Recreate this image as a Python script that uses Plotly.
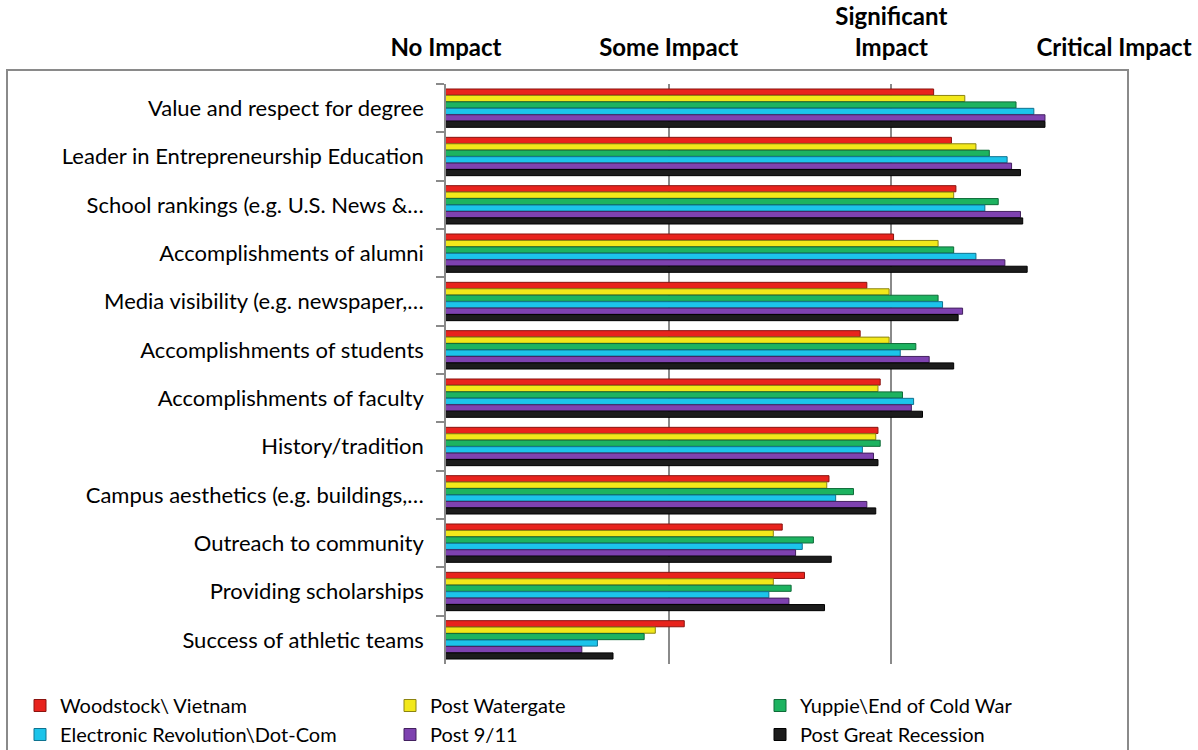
import plotly.graph_objects as go

# Survey factors, listed top to bottom
factors = [
    "Value and respect for degree",
    "Leader in Entrepreneurship Education",
    "School rankings (e.g. U.S. News &…",
    "Accomplishments of alumni",
    "Media visibility (e.g. newspaper,…",
    "Accomplishments of students",
    "Accomplishments of faculty",
    "History/tradition",
    "Campus aesthetics (e.g. buildings,…",
    "Outreach to community",
    "Providing scholarships",
    "Success of athletic teams",
]

# Mean rating per generation (1 = No Impact ... 4 = Critical Impact)
woodstock = [3.19, 3.27, 3.29, 3.01, 2.89, 2.86, 2.95, 2.94, 2.72, 2.51, 2.61, 2.07]
watergate = [3.33, 3.38, 3.28, 3.21, 2.99, 2.99, 2.94, 2.93, 2.71, 2.47, 2.47, 1.94]
yuppie = [3.56, 3.44, 3.48, 3.28, 3.21, 3.11, 3.05, 2.95, 2.83, 2.65, 2.55, 1.89]
dotcom = [3.64, 3.52, 3.42, 3.38, 3.23, 3.04, 3.10, 2.87, 2.75, 2.60, 2.45, 1.68]
post911 = [3.69, 3.54, 3.58, 3.51, 3.32, 3.17, 3.09, 2.92, 2.89, 2.57, 2.54, 1.61]
recession = [3.69, 3.58, 3.59, 3.61, 3.30, 3.28, 3.14, 2.94, 2.93, 2.73, 2.70, 1.75]

series_names = [
    "Woodstock\\ Vietnam",
    "Post Watergate",
    "Yuppie\\End of Cold War",
    "Electronic Revolution\\Dot-Com",
    "Post 9/11",
    "Post Great Recession",
]
series_values = [woodstock, watergate, yuppie, dotcom, post911, recession]
fill_colors = ["#e8231d", "#f2e81a", "#1db360", "#1cc4ea", "#7e42b0", "#1c1c1c"]
edge_colors = ["#8a1410", "#8c8410", "#0e6b38", "#0f7390", "#43215f", "#000000"]

scale_vals = [1, 2, 3, 4]
scale_text = ["<b>No Impact</b>", "<b>Some Impact</b>",
              "<b>Significant<br>Impact</b>", "<b>Critical Impact</b>"]

FONT = "Lato, 'Open Sans', sans-serif"

fig = go.Figure()
for name, vals, fc, ec in zip(series_names, series_values, fill_colors, edge_colors):
    fig.add_trace(go.Bar(
        y=factors, x=vals, name=name, orientation="h",
        marker=dict(color=fc, line=dict(color=ec, width=1)),
    ))

# Plot area edges in pixels
L, R, T, B = 446, 1114, 84, 664
W, H = 1198, 750


def px_x(p):
    return (p - L) / (R - L)


def px_y(p):
    return (B - p) / (B - T)


fig.update_layout(
    width=W, height=H,
    margin=dict(l=L, r=W - R, t=T, b=H - B, autoexpand=False),
    paper_bgcolor="white", plot_bgcolor="white",
    barmode="group", bargap=0.2, bargroupgap=0.05,
    font=dict(family=FONT, size=22, color="#000000"),
    xaxis=dict(
        side="top", range=[1, 4], tickvals=scale_vals, ticktext=scale_text,
        showgrid=True, gridcolor="#8a8a8a", gridwidth=1.5,
        showline=False, zeroline=False, ticks="",
        tickfont=dict(size=24, family=FONT, color="#000000"),
        ticklabelstandoff=22,
    ),
    yaxis=dict(
        autorange="reversed", showline=True, linecolor="#8a8a8a", linewidth=1.5,
        ticks="outside", ticklen=8, tickcolor="#8a8a8a", tickwidth=1.5,
        tickson="boundaries", showgrid=False,
        tickfont=dict(size=22, family=FONT, color="#000000"),
        ticklabelstandoff=16,
    ),
    legend=dict(
        orientation="h", x=px_x(20), y=px_y(686), xanchor="left", yanchor="top",
        font=dict(size=20, family=FONT, color="#000000"),
        entrywidth=325, itemwidth=30, traceorder="normal",
        tracegroupgap=0, bgcolor="rgba(0,0,0,0)",
    ),
    shapes=[dict(
        type="rect", xref="paper", yref="paper",
        x0=px_x(7), x1=px_x(1128), y0=px_y(800), y1=px_y(70),
        line=dict(color="#8a8a8a", width=2), fillcolor="rgba(0,0,0,0)",
        layer="below",
    )],
)

fig.write_html("out.html")
